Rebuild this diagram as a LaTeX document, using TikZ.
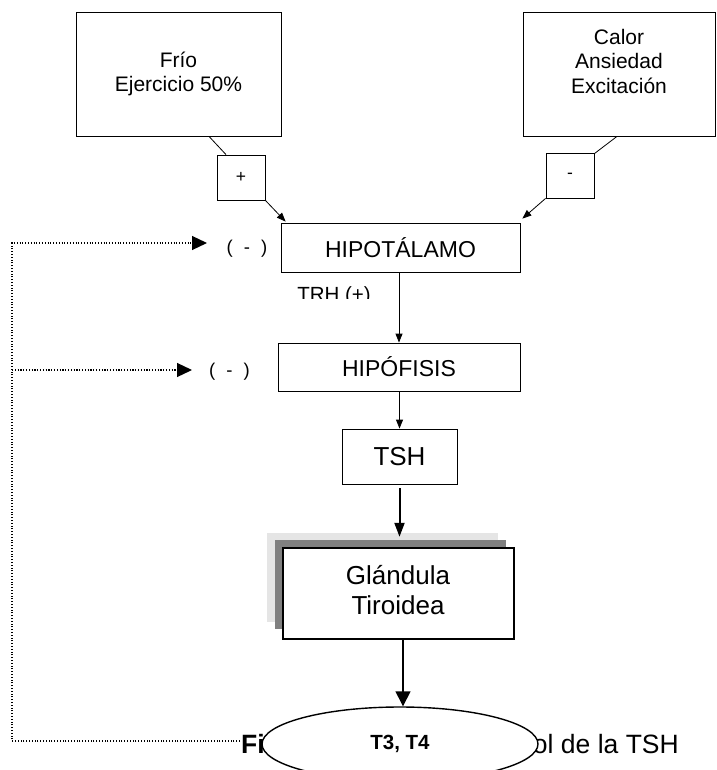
\documentclass[tikz,border=0pt]{standalone}
\usepackage{fontspec}
\setmainfont{Liberation Sans}
\usetikzlibrary{arrows.meta,shapes.geometric,calc}
\definecolor{shadelight}{RGB}{229,229,229}
\definecolor{shadedark}{RGB}{128,128,128}
\begin{document}
\begin{tikzpicture}[x=1pt,y=-1pt,
  box/.style={draw, line width=0.8pt, fill=white, inner sep=0pt, align=center},
  plainline/.style={draw, line width=0.8pt},
  thinarrow/.style={draw, line width=0.8pt, -{Triangle[length=9pt,width=7pt]}},
  boldarrow/.style={draw, line width=2pt, -{Triangle[length=14pt,width=10pt]}},
  midarrow/.style={draw, line width=1.4pt, -{Triangle[length=15pt,width=15pt]}},
  feedback/.style={draw, line width=1.2pt, dash pattern=on 1.1pt off 1.7pt,
                   -{Triangle[length=15pt,width=14pt]}},
  inputfont/.style={font=\fontsize{21}{24.5}\selectfont},
  stagefont/.style={font=\fontsize{23}{27}\selectfont},
  signfont/.style={font=\fontsize{17.5}{20}\selectfont},
  negfont/.style={font=\fontsize{18.5}{22}\selectfont}
]
\useasboundingbox (0,0) rectangle (716,770);
\clip (0,0) rectangle (716,770);

% stimulus boxes
\node[box, inputfont, minimum width=205pt, minimum height=124pt] (frio) at (178.5,74) {Frío\\Ejercicio 50\%};
\node[box, minimum width=192pt, minimum height=124pt] (calor) at (619,74) {};
\node[inputfont, align=center, inner sep=0pt] (calortxt) at (619,61) {Calor\\Ansiedad\\Excitación};

% sign boxes
\node[box, signfont, minimum width=48pt, minimum height=45pt] (plus) at (241,177.5) {+};
\node[box, signfont, minimum width=48pt, minimum height=45pt] (minus) at (570,175.5) {-};

% axis
\node[box, stagefont, minimum width=239pt, minimum height=49pt] (hipot) at (400.5,247.5) {HIPOTÁLAMO};
\node[box, stagefont, minimum width=242pt, minimum height=48pt] (hipof) at (399,367) {HIPÓFISIS};
\node[box, font=\fontsize{26}{30}\selectfont, minimum width=115pt, minimum height=55pt] (tsh) at (399.5,456.5) {TSH};

% thyroid gland with stacked shadow
\node[fill=shadelight, inner sep=0pt, minimum width=231pt, minimum height=89pt] (shlight) at (382.5,577.5) {};
\node[fill=shadedark, inner sep=0pt, minimum width=231pt, minimum height=89pt] (shdark) at (390.5,584.5) {};
\node[box, line width=2pt, minimum width=231pt, minimum height=91pt] (gland) at (398.5,593.5) {};
\node[font=\fontsize{26}{30}\selectfont, align=center, inner sep=0pt] (glandtxt) at (398,590) {Glándula\\Tiroidea};

% negative feedback labels
\node[negfont] (neg1) at (247,249) {(\hspace{0.6em}-\hspace{0.6em})};
\node[negfont] (neg2) at (229.5,372) {(\hspace{0.6em}-\hspace{0.6em})};

\begin{scope}
  \clip (0,0) rectangle (716,298.5);
  \node[anchor=base, inner sep=0pt, font=\fontsize{20.5}{24}\selectfont] (trh) at (334,301) {TRH (+)};
\end{scope}

% caption, partly covered by the hormone ellipse
\node[anchor=base west, inner sep=0pt, font=\bfseries\fontsize{26.5}{30}\selectfont] (capA) at (241,753) {Fi};
\node[anchor=base east, inner sep=0pt, font=\fontsize{26.5}{30}\selectfont] (capB) at (679,753) {ol de la TSH};

% hormones
\node[draw, ellipse, line width=1.4pt, fill=white, inner sep=0pt,
      minimum width=276pt, minimum height=74pt,
      font=\bfseries\fontsize{20.5}{24}\selectfont] (t34) at (400,744) {T3, T4};

% stimulus connectors
\draw[plainline] (frio.south) ++(30.5,0) -- ($(plus.north)+(-15,0)$);
\draw[thinarrow] (plus.south east) -- ($(hipot.north west)+(5,-1)$);
\draw[plainline] (calor.south) ++(-2,0) -- ($(minus.north east)+(0,1)$);
\draw[thinarrow] (minus.south west) -- ($(hipot.north east)+(2,-4)$);

% cascade
\draw[thinarrow] (hipof.north |- hipot.south) -- (hipof.north);
\draw[thinarrow] (tsh.north |- hipof.south) -- (tsh.north);
\draw[boldarrow] ($(tsh.south)+(0,4)$) -- ($(tsh.south |- shlight.north)+(0,4)$);
\draw[midarrow] ($(gland.south)+(4.5,0)$) -- ($(t34.north)+(3,0)$);

% feedback loop
\coordinate (fbcorner) at (12,243);
\coordinate (tip1) at (207,243);
\coordinate (tip2) at (192,370);
\coordinate (fbstart) at (240,741);
\draw[feedback] (fbstart) -| (fbcorner) -- (tip1);
\draw[feedback] (tip2 -| fbcorner) -- (tip2);
\end{tikzpicture}
\end{document}
